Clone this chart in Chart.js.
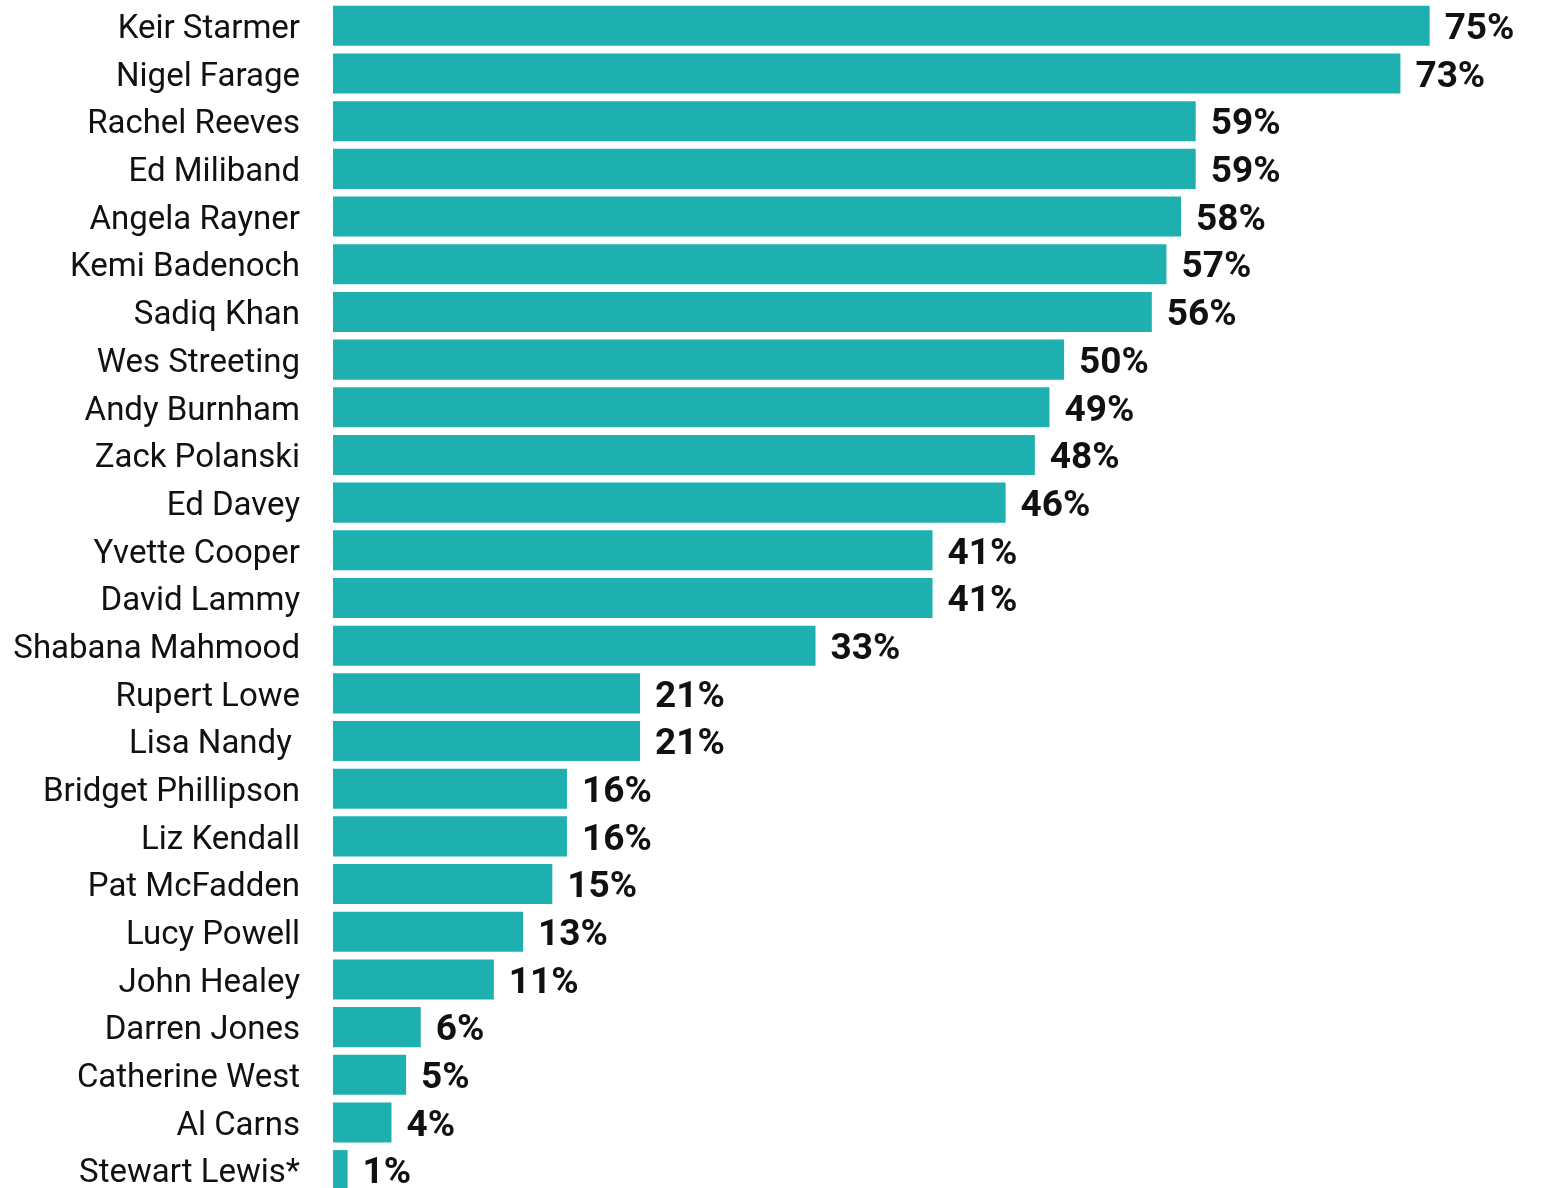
<!DOCTYPE html>
<html>
<head>
<meta charset="utf-8">
<script src="https://cdn.jsdelivr.net/npm/chart.js@4"></script>
<style>
  html, body { margin: 0; padding: 0; background: #fff; overflow: hidden; }
  #wrap { width: 1542px; height: 1196px; }
</style>
</head>
<body>
<div id="wrap"><canvas id="barChart" width="1542" height="1196"></canvas></div>
<script>
// names as they appear top to bottom
const people = [
    'Keir Starmer', 'Nigel Farage', 'Rachel Reeves', 'Ed Miliband', 'Angela Rayner',
    'Kemi Badenoch', 'Sadiq Khan', 'Wes Streeting', 'Andy Burnham', 'Zack Polanski',
    'Ed Davey', 'Yvette Cooper', 'David Lammy', 'Shabana Mahmood', 'Rupert Lowe',
    'Lisa Nandy ', 'Bridget Phillipson', 'Liz Kendall', 'Pat McFadden', 'Lucy Powell',
    'John Healey', 'Darren Jones', 'Catherine West', 'Al Carns', 'Stewart Lewis*'
];
// share who have heard of each (%)
const recognition = [
    75, 73, 59, 59, 58,
    57, 56, 50, 49, 48,
    46, 41, 41, 33, 21,
    21, 16, 16, 15, 13,
    11, 6, 5, 4, 1
];

const barColour = '#1eb0af';

// draws the bold "NN%" next to each bar
const valueLabels = {
    id: 'valueLabels',
    afterDatasetsDraw(chart) {
        const ctx = chart.ctx;
        const meta = chart.getDatasetMeta(0);
        ctx.save();
        ctx.font = 'bold 37px Roboto, "Noto Sans", sans-serif';
        ctx.fillStyle = '#111';
        ctx.textAlign = 'left';
        ctx.textBaseline = 'middle';
        meta.data.forEach((bar, i) => {
            ctx.fillText(recognition[i] + '%', bar.x + 15, bar.y + 4);
        });
        ctx.restore();
    }
};

new Chart(document.getElementById('barChart'), {
    type: 'bar',
    data: {
        labels: people,
        datasets: [{
            data: recognition,
            backgroundColor: barColour,
            borderWidth: 0,
            categoryPercentage: 1,
            barPercentage: 0.84
        }]
    },
    options: {
        indexAxis: 'y',
        responsive: false,
        animation: false,
        layout: { padding: { top: 2, bottom: 2, right: 10, left: 0 } },
        scales: {
            x: {
                min: 0,
                max: 82,
                display: false
            },
            y: {
                grid: { display: false, drawTicks: false },
                border: { display: false },
                ticks: {
                    color: '#111',
                    padding: 33,
                    labelOffset: 4,
                    autoSkip: false,
                    font: { family: 'Roboto, "Noto Sans", sans-serif', size: 33 }
                },
                afterFit(scale) {
                    scale.width = 333;
                    // no extra room above/below the first and last label
                    scale.paddingTop = 0;
                    scale.paddingBottom = 0;
                }
            }
        },
        plugins: {
            legend: { display: false },
            tooltip: { enabled: false }
        }
    },
    plugins: [valueLabels]
});
</script>
</body>
</html>
